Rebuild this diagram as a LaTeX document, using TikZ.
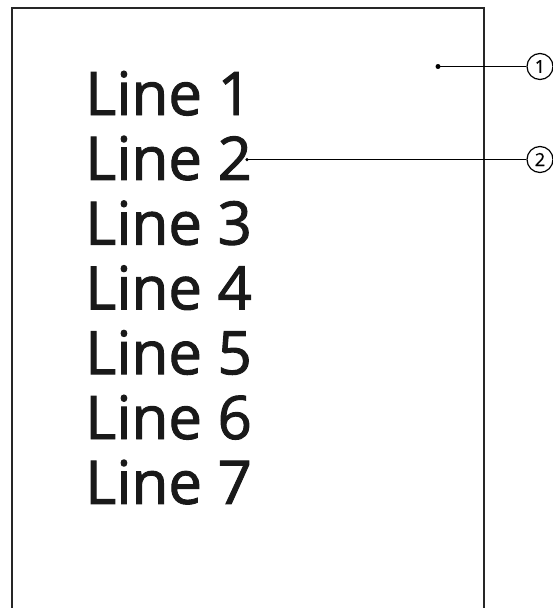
\documentclass[tikz,border=0pt]{standalone}
\usepackage{fontspec}
\setmainfont{Open Sans}
\newfontfamily\heavysans{Open Sans}[FakeBold=1.6]
\newfontfamily\midsans{Open Sans}[FakeBold=0.8]
\begin{document}
\begin{tikzpicture}[x=1pt,y=-1pt,
  linetext/.style={anchor=base west,inner sep=0pt,font=\heavysans\fontsize{60}{60}\selectfont,text=black!90},
  callout/.style={circle,draw,line width=1.2pt,minimum size=26pt,inner sep=0pt,font=\midsans\fontsize{18}{18}\selectfont},
  dotpt/.style={circle,fill,inner sep=0pt,minimum size=5pt},
  leader/.style={line width=1pt}]
\useasboundingbox (0,0) rectangle (553,608);
\draw[line width=2.8pt,color=black!85] (12,612) -- (12,8) -- (484,8) -- (484,612);
\foreach \i in {1,...,7}{
  \node[linetext] (l\i) at (85,{115+64.8*(\i-1)}) {Line \i};
}
\node[callout] (c1) at (540,66.5) {1};
\node[callout] (c2) at (540,159.5) {2};
\node[dotpt] (d1) at (438,66.5) {};
\node[dotpt,minimum size=3.5pt] (d2) at (247,159.5) {};
\draw[leader] (d1.center) -- (c1.west);
\draw[leader] (d2.center) -- (c2.west);
\end{tikzpicture}
\end{document}
